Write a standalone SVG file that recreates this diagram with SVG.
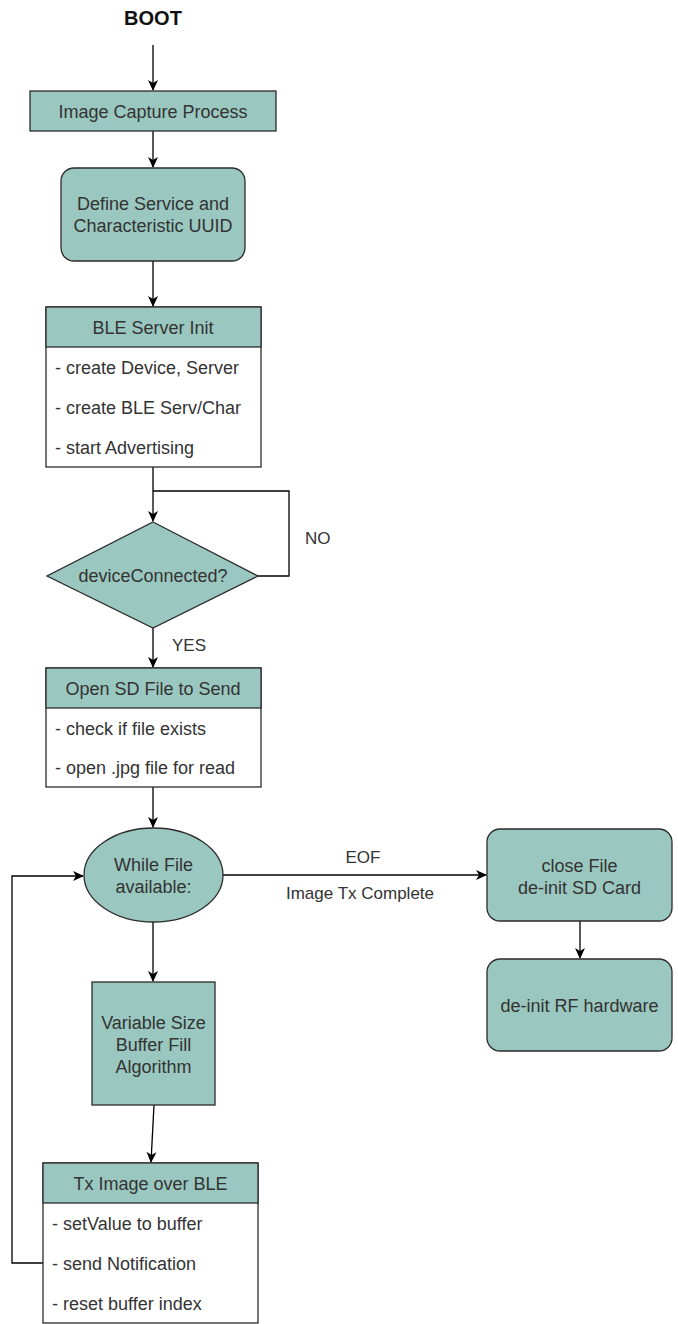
<svg xmlns="http://www.w3.org/2000/svg" width="678" height="1324" viewBox="0 0 678 1324">
  <defs>
    <style>
      .node { fill: #9ac7bf; stroke: #2b2b2b; stroke-width: 1.3; }
      .list { fill: #ffffff; stroke: #2b2b2b; stroke-width: 1.3; }
      .t { font-family: "Liberation Sans", Arial, sans-serif; font-size: 18px; fill: #333333; }
      .c { text-anchor: middle; }
      .lbl { font-family: "Liberation Sans", Arial, sans-serif; font-size: 17px; fill: #333333; }
      .edge { fill: none; stroke: #000000; stroke-width: 1.3; }
    </style>
    <marker id="arrow" markerWidth="12" markerHeight="10" refX="10" refY="5" orient="auto" markerUnits="userSpaceOnUse">
      <path d="M0,0 L11,5 L0,10 L3,5 Z" fill="#000000"/>
    </marker>
  </defs>
  <rect width="678" height="1324" fill="#ffffff"/>

  <!-- connectors -->
  <g id="connectors">
    <path class="edge" d="M153,45 V90" marker-end="url(#arrow)"/>
    <path class="edge" d="M153,131 V167" marker-end="url(#arrow)"/>
    <path class="edge" d="M153,261 V306" marker-end="url(#arrow)"/>
    <path class="edge" d="M153,467 V521" marker-end="url(#arrow)"/>
    <path class="edge" d="M258,576 H289 V491 H153"/>
    <path class="edge" d="M153,628 V667" marker-end="url(#arrow)"/>
    <path class="edge" d="M153,787 V827" marker-end="url(#arrow)"/>
    <path class="edge" d="M153,922 V981" marker-end="url(#arrow)"/>
    <path class="edge" d="M154,1105 L151,1162" marker-end="url(#arrow)"/>
    <path class="edge" d="M43,1263 H12 V876 H83" marker-end="url(#arrow)"/>
    <path class="edge" d="M223,875 H486" marker-end="url(#arrow)"/>
    <path class="edge" d="M580,921 V958" marker-end="url(#arrow)"/>
    <text class="lbl" x="305" y="544">NO</text>
    <text class="lbl" x="172" y="651">YES</text>
    <text class="lbl c" x="363" y="863">EOF</text>
    <text class="lbl c" x="360" y="899">Image Tx Complete</text>
  </g>

  <text class="c" x="153" y="25" font-family="Liberation Sans, Arial, sans-serif" font-size="20" font-weight="bold" fill="#111111">BOOT</text>

  <g id="image-capture">
    <rect class="node" x="30" y="91" width="246" height="40"/>
    <text class="t c" x="153" y="118">Image Capture Process</text>
  </g>

  <g id="define-uuid">
    <rect class="node" x="61" y="168" width="184" height="93" rx="13"/>
    <text class="t c" x="153" y="210">Define Service and</text>
    <text class="t c" x="153" y="232">Characteristic UUID</text>
  </g>

  <g id="ble-server-init">
    <rect class="list" x="46" y="307" width="215" height="160"/>
    <rect class="node" x="46" y="307" width="215" height="40"/>
    <text class="t c" x="153" y="334">BLE Server Init</text>
    <text class="t" x="55" y="374">- create Device, Server</text>
    <text class="t" x="55" y="414">- create BLE Serv/Char</text>
    <text class="t" x="55" y="454">- start Advertising</text>
  </g>

  <g id="device-connected">
    <polygon class="node" points="153,522 258,576 153,628 47,576" stroke-width="2.2"/>
    <text class="t c" x="153" y="582">deviceConnected?</text>
  </g>

  <g id="open-sd-file">
    <rect class="list" x="46" y="668" width="215" height="119"/>
    <rect class="node" x="46" y="668" width="215" height="40"/>
    <text class="t c" x="153" y="695">Open SD File to Send</text>
    <text class="t" x="55" y="735">- check if file exists</text>
    <text class="t" x="55" y="774">- open .jpg file for read</text>
  </g>

  <g id="while-file">
    <ellipse class="node" cx="153.5" cy="875" rx="69.5" ry="47"/>
    <text class="t c" x="153.5" y="871">While File</text>
    <text class="t c" x="153.5" y="893">available:</text>
  </g>

  <g id="buffer-fill">
    <rect class="node" x="92" y="982" width="123" height="123"/>
    <text class="t c" x="153.5" y="1029">Variable Size</text>
    <text class="t c" x="153.5" y="1051">Buffer Fill</text>
    <text class="t c" x="153.5" y="1073">Algorithm</text>
  </g>

  <g id="tx-image">
    <rect class="list" x="43" y="1163" width="215" height="160"/>
    <rect class="node" x="43" y="1163" width="215" height="40"/>
    <text class="t c" x="150.5" y="1190">Tx Image over BLE</text>
    <text class="t" x="52" y="1230">- setValue to buffer</text>
    <text class="t" x="52" y="1270">- send Notification</text>
    <text class="t" x="52" y="1310">- reset buffer index</text>
  </g>

  <g id="close-file">
    <rect class="node" x="487" y="829" width="185" height="92" rx="13"/>
    <text class="t c" x="579.5" y="872">close File</text>
    <text class="t c" x="579.5" y="894">de-init SD Card</text>
  </g>

  <g id="deinit-rf">
    <rect class="node" x="487" y="959" width="185" height="92" rx="13"/>
    <text class="t c" x="579.5" y="1012">de-init RF hardware</text>
  </g>
</svg>
